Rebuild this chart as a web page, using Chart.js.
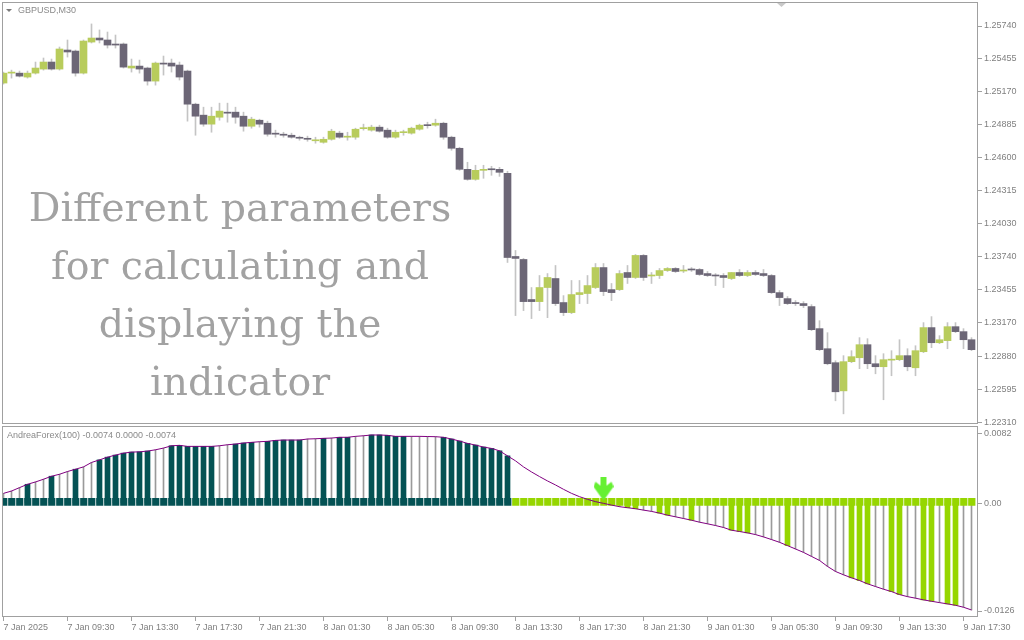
<!DOCTYPE html>
<html>
<head>
<meta charset="utf-8">
<script src="https://cdn.jsdelivr.net/npm/chart.js@4.4.1/dist/chart.umd.min.js"></script>
<style>
  html, body { margin: 0; padding: 0; background: #fff; }
  #wrap { position: relative; width: 1024px; height: 640px; overflow: hidden; }
  canvas { position: absolute; left: 0; }
  #main { top: 0; }
  #ind { top: 425px; }
</style>
</head>
<body>
<div id="wrap">
  <canvas id="main" width="1024" height="425"></canvas>
  <canvas id="ind" width="1024" height="215"></canvas>
</div>
<script>
// GBPUSD M30 candles, 122 bars
const opens = [
  1.25246, 1.25332, 1.25332, 1.25298, 1.25332, 1.25367, 1.25428, 1.25367, 1.25532, 1.25523,
  1.25332, 1.25601, 1.25636, 1.25619, 1.25584, 1.25584, 1.25376, 1.25393, 1.25376, 1.25263,
  1.25419, 1.25419, 1.25402, 1.25350, 1.25063, 1.24968, 1.24890, 1.24950, 1.24994, 1.24994,
  1.24959, 1.24872, 1.24924, 1.24898, 1.24812, 1.24803, 1.24794, 1.24768, 1.24759, 1.24746,
  1.24733, 1.24759, 1.24812, 1.24777, 1.24777, 1.24851, 1.24838, 1.24864, 1.24838, 1.24777,
  1.24816, 1.24812, 1.24846, 1.24881, 1.24881, 1.24898, 1.24777, 1.24681, 1.24499, 1.24412,
  1.24490, 1.24499, 1.24499, 1.24464, 1.23744, 1.23718, 1.23371, 1.23353, 1.23475, 1.23553,
  1.23345, 1.23258, 1.23414, 1.23423, 1.23475, 1.23648, 1.23457, 1.23457, 1.23605, 1.23562,
  1.23753, 1.23575, 1.23579, 1.23622, 1.23640, 1.23618, 1.23631, 1.23631, 1.23596, 1.23579,
  1.23579, 1.23553, 1.23605, 1.23579, 1.23605, 1.23596, 1.23579, 1.23431, 1.23379, 1.23345,
  1.23336, 1.23310, 1.23119, 1.22945, 1.22824, 1.22580, 1.22833, 1.22867, 1.22980, 1.22815,
  1.22789, 1.22846, 1.22850, 1.22885, 1.22780, 1.22919, 1.23128, 1.22997, 1.23015, 1.23136,
  1.23093, 1.23023
];
const highs = [
  1.25341, 1.25358, 1.25350, 1.25350, 1.25428, 1.25463, 1.25454, 1.25558, 1.25619, 1.25532,
  1.25619, 1.25758, 1.25706, 1.25688, 1.25662, 1.25593, 1.25454, 1.25445, 1.25384, 1.25428,
  1.25480, 1.25454, 1.25428, 1.25358, 1.25072, 1.25037, 1.25037, 1.25072, 1.25072, 1.25037,
  1.24994, 1.24950, 1.24933, 1.24916, 1.24838, 1.24820, 1.24812, 1.24786, 1.24786, 1.24777,
  1.24777, 1.24846, 1.24829, 1.24820, 1.24855, 1.24890, 1.24881, 1.24881, 1.24855, 1.24838,
  1.24838, 1.24864, 1.24890, 1.24907, 1.24933, 1.24907, 1.24786, 1.24690, 1.24560, 1.24534,
  1.24534, 1.24525, 1.24516, 1.24482, 1.23796, 1.23727, 1.23475, 1.23579, 1.23596, 1.23666,
  1.23405, 1.23536, 1.23536, 1.23579, 1.23683, 1.23683, 1.23510, 1.23622, 1.23666, 1.23761,
  1.23761, 1.23605, 1.23640, 1.23648, 1.23648, 1.23666, 1.23648, 1.23640, 1.23614, 1.23596,
  1.23596, 1.23605, 1.23631, 1.23622, 1.23622, 1.23631, 1.23588, 1.23449, 1.23397, 1.23362,
  1.23353, 1.23327, 1.23188, 1.23084, 1.22841, 1.22885, 1.22928, 1.23041, 1.23032, 1.22885,
  1.22902, 1.22928, 1.23023, 1.22945, 1.22971, 1.23171, 1.23223, 1.23058, 1.23171, 1.23171,
  1.23119, 1.23041
];
const lows = [
  1.25237, 1.25289, 1.25298, 1.25289, 1.25324, 1.25358, 1.25358, 1.25358, 1.25471, 1.25306,
  1.25324, 1.25593, 1.25593, 1.25549, 1.25549, 1.25376, 1.25341, 1.25332, 1.25228, 1.25228,
  1.25315, 1.25341, 1.25272, 1.24916, 1.24794, 1.24872, 1.24820, 1.24924, 1.24907, 1.24898,
  1.24829, 1.24855, 1.24864, 1.24786, 1.24777, 1.24777, 1.24768, 1.24751, 1.24742, 1.24725,
  1.24725, 1.24751, 1.24768, 1.24751, 1.24759, 1.24838, 1.24829, 1.24820, 1.24768, 1.24768,
  1.24794, 1.24803, 1.24838, 1.24855, 1.24872, 1.24759, 1.24664, 1.24490, 1.24404, 1.24404,
  1.24421, 1.24447, 1.24438, 1.23692, 1.23232, 1.23275, 1.23206, 1.23275, 1.23214, 1.23319,
  1.23232, 1.23249, 1.23336, 1.23336, 1.23466, 1.23405, 1.23362, 1.23449, 1.23510, 1.23553,
  1.23536, 1.23510, 1.23553, 1.23614, 1.23605, 1.23605, 1.23614, 1.23579, 1.23570, 1.23492,
  1.23475, 1.23544, 1.23570, 1.23570, 1.23579, 1.23570, 1.23423, 1.23319, 1.23327, 1.23319,
  1.23301, 1.23102, 1.22928, 1.22806, 1.22494, 1.22381, 1.22824, 1.22772, 1.22772, 1.22728,
  1.22503, 1.22711, 1.22841, 1.22754, 1.22711, 1.22911, 1.22954, 1.22989, 1.22945, 1.23084,
  1.22945, 1.22928
];
const closes = [
  1.25332, 1.25341, 1.25306, 1.25332, 1.25376, 1.25428, 1.25367, 1.25541, 1.25515, 1.25332,
  1.25610, 1.25636, 1.25619, 1.25575, 1.25575, 1.25384, 1.25393, 1.25367, 1.25263, 1.25419,
  1.25410, 1.25393, 1.25298, 1.25063, 1.24959, 1.24890, 1.24959, 1.25003, 1.24985, 1.24950,
  1.24872, 1.24933, 1.24890, 1.24803, 1.24803, 1.24794, 1.24777, 1.24768, 1.24759, 1.24751,
  1.24759, 1.24829, 1.24777, 1.24786, 1.24846, 1.24855, 1.24864, 1.24829, 1.24777, 1.24820,
  1.24820, 1.24855, 1.24881, 1.24877, 1.24898, 1.24777, 1.24681, 1.24499, 1.24412, 1.24490,
  1.24499, 1.24495, 1.24473, 1.23735, 1.23727, 1.23353, 1.23353, 1.23475, 1.23562, 1.23336,
  1.23258, 1.23414, 1.23431, 1.23492, 1.23648, 1.23440, 1.23431, 1.23596, 1.23562, 1.23753,
  1.23562, 1.23579, 1.23622, 1.23640, 1.23614, 1.23622, 1.23627, 1.23588, 1.23579, 1.23575,
  1.23562, 1.23605, 1.23579, 1.23605, 1.23588, 1.23579, 1.23431, 1.23388, 1.23336, 1.23336,
  1.23319, 1.23110, 1.22937, 1.22815, 1.22572, 1.22833, 1.22876, 1.22980, 1.22815, 1.22789,
  1.22850, 1.22850, 1.22885, 1.22789, 1.22928, 1.23128, 1.22997, 1.23023, 1.23136, 1.23093,
  1.23023, 1.22937
];

// AndreaForex(100) indicator values per bar
const indValues = [
  0.00115, 0.00142, 0.00182, 0.00221, 0.00248, 0.00280, 0.00315, 0.00338, 0.00370, 0.00397,
  0.00424, 0.00476, 0.00506, 0.00538, 0.00562, 0.00585, 0.00597, 0.00600, 0.00609, 0.00624,
  0.00644, 0.00671, 0.00676, 0.00664, 0.00664, 0.00664, 0.00664, 0.00671, 0.00683, 0.00691,
  0.00703, 0.00711, 0.00718, 0.00723, 0.00734, 0.00738, 0.00738, 0.00738, 0.00750, 0.00753,
  0.00758, 0.00761, 0.00770, 0.00770, 0.00781, 0.00788, 0.00797, 0.00797, 0.00793, 0.00781,
  0.00781, 0.00781, 0.00781, 0.00779, 0.00777, 0.00770, 0.00750, 0.00726, 0.00699, 0.00679,
  0.00656, 0.00640, 0.00612, 0.00553, 0.00495, 0.00424, 0.00365, 0.00311, 0.00260, 0.00213,
  0.00162, 0.00115, 0.00076, 0.00045, 0.00018, -0.00002, -0.00022, -0.00041, -0.00053, -0.00065,
  -0.00081, -0.00096, -0.00116, -0.00140, -0.00159, -0.00179, -0.00199, -0.00222, -0.00241, -0.00261,
  -0.00284, -0.00316, -0.00331, -0.00347, -0.00367, -0.00394, -0.00425, -0.00457, -0.00496, -0.00535,
  -0.00575, -0.00622, -0.00669, -0.00739, -0.00798, -0.00837, -0.00872, -0.00904, -0.00942, -0.00974,
  -0.01005, -0.01033, -0.01068, -0.01092, -0.01110, -0.01130, -0.01146, -0.01162, -0.01177, -0.01193,
  -0.01216, -0.01248
];
// bars drawn as thick histogram columns
const thickBars = [3, 6, 9, 12, 13, 14, 15, 16, 17, 18, 21, 22, 23, 24, 25, 26, 29, 30, 31,
  33, 34, 35, 36, 37, 40, 42, 43, 46, 47, 48, 49, 50, 55, 56, 57, 58, 59, 60, 61, 62, 63,
  78, 79, 82, 83, 86, 91, 92, 93, 98, 106, 107, 108, 111, 112, 115, 116, 118, 119];
const trendFlip = 64;          // first bar of the down state
const signalBars = [75];
const signalValues = [0.0017];
const stripRange = [-0.0003, 0.0006];

const priceTicks = [1.25740, 1.25455, 1.25170, 1.24885, 1.24600, 1.24315, 1.24030,
  1.23740, 1.23455, 1.23170, 1.22880, 1.22595, 1.22310];
const indTicks = [0.0082, 0, -0.0126];
const indTickLabels = ['0.0082', '0.00', '-0.0126'];
const timeTickIdx = [0, 8, 16, 24, 32, 40, 48, 56, 64, 72, 80, 88, 96, 104, 112, 120];
const timeLabels = ['7 Jan 2025', '7 Jan 09:30', '7 Jan 13:30', '7 Jan 17:30', '7 Jan 21:30',
  '8 Jan 01:30', '8 Jan 05:30', '8 Jan 09:30', '8 Jan 13:30', '8 Jan 17:30', '8 Jan 21:30',
  '9 Jan 01:30', '9 Jan 05:30', '9 Jan 09:30', '9 Jan 13:30', '9 Jan 17:30'];

const SYMBOL_TITLE = 'GBPUSD,M30';
const IND_TITLE = 'AndreaForex(100) -0.0074 0.0000 -0.0074';
const OVERLAY_LINES = ['Different parameters', 'for calculating and', 'displaying the', 'indicator'];

const BULL = '#b8cc5c';
const BEAR = '#6c6676';
const WICK = '#c4c4c4';
const TEAL = '#045254';
const LIME = '#96d600';
const FRAME = '#a0a0a0';
const LABEL = '#808080';
const AXIS_FONT = { family: '"Liberation Sans", Arial, sans-serif', size: 9 };

const X_MIN = -0.1875;
const X_MAX = X_MIN + 122;
const idx = closes.map((_, i) => i);

function frame(chart) {
  const { ctx, chartArea: a } = chart;
  ctx.save();
  ctx.strokeStyle = FRAME;
  ctx.lineWidth = 1;
  ctx.strokeRect(a.left + 0.5, a.top + 0.5, a.right - a.left - 1, a.bottom - a.top - 1);
  ctx.restore();
}

function xAxis(show) {
  return {
    type: 'linear', min: X_MIN, max: X_MAX, offset: false, display: show,
    afterBuildTicks: (s) => { s.ticks = timeTickIdx.map((v) => ({ value: v })); },
    afterFit: (s) => { s.height = show ? 23 : 0; s.paddingLeft = 0; s.paddingRight = 0; },
    grid: { offset: false, drawOnChartArea: false, drawTicks: true, tickLength: 4, color: FRAME },
    border: { display: false },
    ticks: {
      align: 'start', maxRotation: 0, autoSkip: false, padding: 1, color: LABEL, font: AXIS_FONT,
      callback: (v) => timeLabels[timeTickIdx.indexOf(v)],
    },
  };
}

function yAxis(min, max, tickVals, fmt) {
  return {
    type: 'linear', position: 'right', min, max,
    afterBuildTicks: (s) => { s.ticks = tickVals.map((v) => ({ value: v })); },
    afterFit: (s) => { s.width = 46; s.paddingTop = 0; s.paddingBottom = 0; },
    grid: { drawOnChartArea: false, drawTicks: true, tickLength: 4, color: FRAME },
    border: { display: false },
    ticks: { padding: 2, color: LABEL, font: AXIS_FONT, callback: fmt },
  };
}

const mainDecor = {
  id: 'mainDecor',
  afterDraw(chart) {
    const { ctx } = chart;
    frame(chart);
    ctx.save();
    ctx.fillStyle = '#7a7a7a';
    ctx.beginPath(); ctx.moveTo(6, 9); ctx.lineTo(12, 9); ctx.lineTo(9, 12); ctx.closePath(); ctx.fill();
    ctx.fillStyle = '#c8c8c8';
    ctx.beginPath(); ctx.moveTo(777, 3); ctx.lineTo(786, 3); ctx.lineTo(781.5, 7); ctx.closePath(); ctx.fill();
    ctx.fillStyle = '#8a8a8a';
    ctx.font = '9px "Liberation Sans"';
    ctx.textBaseline = 'middle';
    ctx.fillText(SYMBOL_TITLE, 18, 11);
    ctx.font = '39.5px "DejaVu Serif"';
    ctx.fillStyle = '#a2a2a2';
    ctx.textAlign = 'center';
    ctx.textBaseline = 'alphabetic';
    OVERLAY_LINES.forEach((t, k) => ctx.fillText(t, 240, 221 + k * 58));
    ctx.restore();
  },
};

const indDecor = {
  id: 'indDecor',
  afterDraw(chart) {
    const { ctx } = chart;
    frame(chart);
    ctx.save();
    ctx.fillStyle = '#8a8a8a';
    ctx.font = '9px "Liberation Sans"';
    ctx.textBaseline = 'middle';
    ctx.fillText(IND_TITLE, 7, 11);
    ctx.restore();
  },
};

new Chart(document.getElementById('main'), {
  type: 'bar',
  data: {
    datasets: [
      {
        label: 'body',
        data: idx.map((i) => ({ x: i, y: [opens[i], closes[i]] })),
        backgroundColor: idx.map((i) => (closes[i] > opens[i] ? BULL : BEAR)),
        barThickness: 7, minBarLength: 1, grouped: false, order: 0,
      },
      {
        label: 'wick',
        data: idx.map((i) => ({ x: i, y: [lows[i], highs[i]] })),
        backgroundColor: WICK, barThickness: 1, grouped: false, order: 1,
      },
    ],
  },
  options: {
    responsive: false, animation: false, devicePixelRatio: 1,
    layout: { autoPadding: false, padding: { left: 2, top: 2, right: 0, bottom: 1 } },
    plugins: { legend: { display: false }, tooltip: { enabled: false } },
    scales: {
      x: xAxis(false),
      y: yAxis(1.22293, 1.25948, priceTicks, (v) => v.toFixed(5)),
    },
  },
  plugins: [mainDecor],
});

const arrow = document.createElement('canvas');
arrow.width = 20; arrow.height = 24;
(() => {
  const c = arrow.getContext('2d');
  c.fillStyle = '#66f033';
  c.beginPath();
  c.moveTo(7, 0); c.lineTo(13, 0); c.lineTo(13, 9);
  c.lineTo(18, 5); c.lineTo(20, 10); c.lineTo(10, 24); c.lineTo(0, 10);
  c.lineTo(2, 5); c.lineTo(7, 9); c.closePath();
  c.fill();
})();

const histVisible = (i) => (i < trendFlip ? indValues[i] > 0 : indValues[i] < 0);

new Chart(document.getElementById('ind'), {
  type: 'bar',
  data: {
    datasets: [
      {
        type: 'line', label: 'signal',
        data: signalBars.map((b, k) => ({ x: b, y: signalValues[k] })),
        showLine: false, pointStyle: arrow, pointRadius: 10, order: -1,
      },
      {
        type: 'line', label: 'AndreaForex',
        data: idx.map((i) => ({ x: i, y: indValues[i] })),
        borderColor: '#800080', borderWidth: 1, pointRadius: 0, tension: 0, order: 0,
      },
      {
        label: 'state',
        data: idx.map((i) => ({ x: i, y: stripRange })),
        backgroundColor: idx.map((i) => (i < trendFlip ? TEAL : LIME)),
        borderColor: idx.map((i) => (i < trendFlip ? 'rgba(255,255,255,0.28)' : 'rgba(255,255,255,0.08)')),
        borderWidth: { left: 1, right: 0, top: 0, bottom: 0 }, borderSkipped: false,
        barThickness: 8, grouped: false, order: 1,
      },
      {
        label: 'thick',
        data: thickBars.map((i) => ({ x: i, y: indValues[i] })),
        backgroundColor: thickBars.map((i) => (i < trendFlip ? TEAL : LIME)),
        barThickness: 5, grouped: false, order: 2,
      },
      {
        label: 'thin',
        data: idx.filter(histVisible).map((i) => ({ x: i, y: indValues[i] })),
        backgroundColor: '#9a9a9a', barThickness: 1, grouped: false, order: 3,
      },
    ],
  },
  options: {
    responsive: false, animation: false, devicePixelRatio: 1,
    layout: { autoPadding: false, padding: { left: 2, top: 1, right: 0, bottom: 0 } },
    plugins: { legend: { display: false }, tooltip: { enabled: false } },
    scales: {
      x: xAxis(true),
      y: yAxis(-0.0133, 0.00902, indTicks, (v) => indTickLabels[indTicks.indexOf(v)]),
    },
  },
  plugins: [indDecor],
});
</script>
</body>
</html>
